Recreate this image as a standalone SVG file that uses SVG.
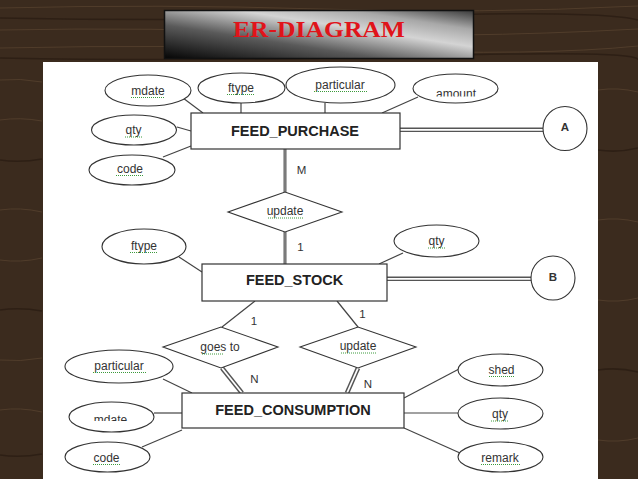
<svg xmlns="http://www.w3.org/2000/svg" width="638" height="479" viewBox="0 0 638 479">
<defs>
<linearGradient id="titleGrad" x1="0" y1="1" x2="1" y2="0">
<stop offset="0" stop-color="#050505"/>
<stop offset="0.35" stop-color="#5a5a5a"/>
<stop offset="0.62" stop-color="#d4d4d4"/>
<stop offset="0.8" stop-color="#a8a8a8"/>
<stop offset="1" stop-color="#3a3a3a"/>
</linearGradient>
<clipPath id="clipAmount"><rect x="400" y="60" width="110" height="36.5"/></clipPath>
<clipPath id="clipMdate"><rect x="60" y="400" width="110" height="21"/></clipPath>
<style>
.attr{fill:#fff;stroke:#333;stroke-width:1.1}
.ent{fill:#fff;stroke:#333;stroke-width:1.2}
.rel{fill:#fff;stroke:#333;stroke-width:1.1}
.ln{stroke:#444;stroke-width:1.2;fill:none}
.thick{stroke:#7a7a7a;stroke-width:3.2;fill:none}
.dblo{stroke:#555;stroke-width:4.6;fill:none}
.dbli{stroke:#fff;stroke-width:1.8;fill:none}
.t{font-family:"Liberation Sans",Arial,sans-serif;font-size:12px;fill:#333;text-anchor:middle}
.et{font-family:"Liberation Sans",Arial,sans-serif;font-size:14.5px;font-weight:bold;fill:#222;text-anchor:middle}
.lbl{font-family:"Liberation Sans",Arial,sans-serif;font-size:11.5px;fill:#333;text-anchor:middle}
.sq{stroke:#3c9a3c;stroke-width:1;stroke-dasharray:1 1;fill:none}
.grain{stroke:#5a4431;stroke-width:1;fill:none;opacity:0.7}
.grain2{stroke:#2a1d13;stroke-width:1.5;fill:none;opacity:0.8}
</style>
</defs>
<g id="background">
<rect x="0" y="0" width="638" height="479" fill="#3b2b1e"/>
<path class="grain" d="M0 8 Q160 4 320 9 T638 6"/>
<path class="grain2" d="M0 18 Q200 22 400 16 T638 20"/>
<path class="grain" d="M0 30 Q150 27 300 33 T638 29"/>
<path class="grain" d="M0 48 Q180 44 360 50 T638 46"/>
<path class="grain2" d="M0 58 Q200 62 420 56 T638 60"/>
<path class="grain" d="M0 80 Q20 78 42 82"/>
<path class="grain" d="M0 120 Q20 117 42 121"/>
<path class="grain2" d="M0 160 Q20 163 42 159"/>
<path class="grain" d="M0 210 Q20 207 42 212"/>
<path class="grain" d="M0 260 Q20 263 42 258"/>
<path class="grain2" d="M0 310 Q20 307 42 311"/>
<path class="grain" d="M0 360 Q20 362 42 358"/>
<path class="grain" d="M0 410 Q20 407 42 412"/>
<path class="grain2" d="M0 455 Q20 458 42 454"/>
<path class="grain" d="M598 90 Q618 87 638 92"/>
<path class="grain2" d="M598 150 Q618 153 638 148"/>
<path class="grain" d="M598 220 Q618 217 638 222"/>
<path class="grain" d="M598 300 Q618 303 638 298"/>
<path class="grain2" d="M598 370 Q618 367 638 372"/>
<path class="grain" d="M598 440 Q618 443 638 438"/>
<rect x="43" y="62" width="555" height="417" fill="#ffffff"/>
</g>
<g id="title">
<rect x="164.5" y="10.5" width="309" height="48" fill="url(#titleGrad)" stroke="#111" stroke-width="1.5"/>
<text x="319" y="37" font-family="'Liberation Serif','Times New Roman',serif" font-size="23" font-weight="bold" fill="#e0141a" text-anchor="middle" textLength="172" lengthAdjust="spacingAndGlyphs">ER-DIAGRAM</text>
</g>
<g id="connectors">
<line class="ln" x1="183" y1="98" x2="203" y2="113"/>
<line class="ln" x1="241" y1="103" x2="241" y2="113"/>
<line class="ln" x1="325" y1="103" x2="325" y2="113"/>
<line class="ln" x1="418" y1="97" x2="382" y2="113"/>
<line class="ln" x1="177" y1="127" x2="191" y2="131"/>
<line class="ln" x1="163" y1="157" x2="191" y2="146"/>
<line class="dblo" x1="400" y1="129.8" x2="543" y2="129.8"/>
<line class="dbli" x1="400" y1="129.8" x2="543" y2="129.8"/>
<line class="thick" x1="285" y1="149" x2="285" y2="192"/>
<line class="thick" x1="285" y1="232" x2="285" y2="264"/>
<line class="ln" x1="179" y1="257" x2="202" y2="272"/>
<line class="ln" x1="403" y1="253" x2="379" y2="264"/>
<line class="dblo" x1="387" y1="278.8" x2="531" y2="278.8"/>
<line class="dbli" x1="387" y1="278.8" x2="531" y2="278.8"/>
<line class="ln" x1="255" y1="301" x2="222" y2="327"/>
<line class="ln" x1="337" y1="301" x2="358" y2="327"/>
<line class="dblo" x1="222" y1="368" x2="242" y2="393"/>
<line class="dbli" x1="222" y1="368" x2="242" y2="393"/>
<line class="dblo" x1="358" y1="368" x2="347" y2="393"/>
<line class="dbli" x1="358" y1="368" x2="347" y2="393"/>
<line class="ln" x1="163" y1="379" x2="192" y2="393"/>
<line class="ln" x1="154" y1="413" x2="182" y2="413"/>
<line class="ln" x1="142" y1="447" x2="182" y2="430"/>
<line class="ln" x1="459" y1="369" x2="404" y2="398"/>
<line class="ln" x1="404" y1="413" x2="458" y2="413"/>
<line class="ln" x1="404" y1="428" x2="460" y2="453"/>
</g>
<g id="feed_purchase">
<rect class="ent" x="191" y="113" width="209" height="36"/>
<text class="et" x="295" y="136">FEED_PURCHASE</text>
</g>
<g id="attr_mdate_1">
<ellipse class="attr" cx="148" cy="90.5" rx="43" ry="15.5"/>
<text class="t" x="148" y="95">mdate</text>
<line class="sq" x1="131" y1="97.5" x2="165" y2="97.5"/>
</g>
<g id="attr_ftype_1">
<ellipse class="attr" cx="241.5" cy="88" rx="43.5" ry="15"/>
<text class="t" x="241" y="92">ftype</text>
<line class="sq" x1="227" y1="94.5" x2="255" y2="94.5"/>
</g>
<g id="attr_particular_1">
<ellipse class="attr" cx="340.5" cy="85" rx="54.5" ry="18"/>
<text class="t" x="340" y="89">particular</text>
<line class="sq" x1="314" y1="91.5" x2="367" y2="91.5"/>
</g>
<g id="attr_amount">
<ellipse class="attr" cx="455.5" cy="88.5" rx="42.5" ry="14.5"/>
<text class="t" x="456" y="98" clip-path="url(#clipAmount)">amount</text>
</g>
<g id="attr_qty_1">
<ellipse class="attr" cx="134" cy="130" rx="42.5" ry="15"/>
<text class="t" x="133.5" y="134">qty</text>
<line class="sq" x1="125" y1="137" x2="142" y2="137"/>
</g>
<g id="attr_code_1">
<ellipse class="attr" cx="132" cy="170" rx="43" ry="15"/>
<text class="t" x="130" y="173">code</text>
<line class="sq" x1="116" y1="175.5" x2="144" y2="175.5"/>
</g>
<g id="entity_a">
<circle class="attr" cx="565" cy="128.5" r="22"/>
<text class="lbl" x="565" y="131" font-size="10.5px" font-weight="bold">A</text>
</g>
<g id="rel_update_1">
<polygon class="rel" points="228,212 285,192 342,212 285,232"/>
<text class="t" x="285" y="215" font-size="11.5px">update</text>
<line class="sq" x1="268" y1="218" x2="303" y2="218"/>
</g>
<g id="card_labels">
<text class="lbl" x="301.5" y="174">M</text>
<text class="lbl" x="300.5" y="251">1</text>
<text class="lbl" x="254" y="325">1</text>
<text class="lbl" x="254.5" y="383">N</text>
<text class="lbl" x="362.5" y="318">1</text>
<text class="lbl" x="368" y="388">N</text>
</g>
<g id="feed_stock">
<rect class="ent" x="202" y="264" width="185" height="37"/>
<text class="et" x="294.5" y="285">FEED_STOCK</text>
</g>
<g id="attr_ftype_2">
<ellipse class="attr" cx="144" cy="246.5" rx="42" ry="17.5"/>
<text class="t" x="144" y="250">ftype</text>
<line class="sq" x1="130" y1="252.5" x2="158" y2="252.5"/>
</g>
<g id="attr_qty_2">
<ellipse class="attr" cx="436.5" cy="241" rx="42.5" ry="16"/>
<text class="t" x="436.5" y="245">qty</text>
<line class="sq" x1="428" y1="248" x2="446" y2="248"/>
</g>
<g id="entity_b">
<circle class="attr" cx="553" cy="278" r="22"/>
<text class="lbl" x="553" y="281" font-size="10.5px" font-weight="bold">B</text>
</g>
<g id="rel_goes_to">
<polygon class="rel" points="163,347 221,327 278,347 221,368"/>
<text class="t" x="220" y="351" font-size="11.5px">goes to</text>
<line class="sq" x1="202" y1="354" x2="223" y2="354"/>
</g>
<g id="rel_update_2">
<polygon class="rel" points="300,347 358,327 416,347 358,368"/>
<text class="t" x="358" y="350" font-size="11.5px">update</text>
<line class="sq" x1="341" y1="353" x2="376" y2="353"/>
</g>
<g id="feed_consumption">
<rect class="ent" x="182" y="393" width="222" height="35"/>
<text class="et" x="293" y="415">FEED_CONSUMPTION</text>
</g>
<g id="attr_particular_2">
<ellipse class="attr" cx="119" cy="366.5" rx="54" ry="16.5"/>
<text class="t" x="119" y="370">particular</text>
<line class="sq" x1="93" y1="372.5" x2="146" y2="372.5"/>
</g>
<g id="attr_mdate_2">
<ellipse class="attr" cx="111.5" cy="417" rx="42.5" ry="15"/>
<text class="t" x="110.5" y="424" clip-path="url(#clipMdate)">mdate</text>
</g>
<g id="attr_code_2">
<ellipse class="attr" cx="107.5" cy="457" rx="42.5" ry="15"/>
<text class="t" x="106.5" y="462">code</text>
<line class="sq" x1="93" y1="464.5" x2="121" y2="464.5"/>
</g>
<g id="attr_shed">
<ellipse class="attr" cx="500.5" cy="370" rx="42.5" ry="16"/>
<text class="t" x="501.5" y="374">shed</text>
<line class="sq" x1="489" y1="376.5" x2="515" y2="376.5"/>
</g>
<g id="attr_qty_3">
<ellipse class="attr" cx="500.5" cy="413.5" rx="42.5" ry="15.5"/>
<text class="t" x="500" y="418">qty</text>
<line class="sq" x1="491" y1="421" x2="509" y2="421"/>
</g>
<g id="attr_remark">
<ellipse class="attr" cx="500.5" cy="457" rx="42.5" ry="15"/>
<text class="t" x="500" y="462">remark</text>
<line class="sq" x1="481" y1="464.5" x2="520" y2="464.5"/>
</g>
</svg>
